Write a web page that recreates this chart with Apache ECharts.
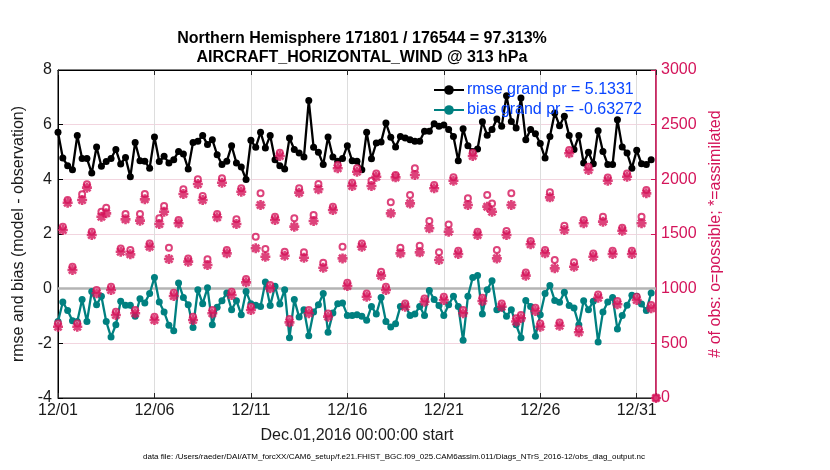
<!DOCTYPE html>
<html>
<head>
<meta charset="utf-8">
<script src="https://cdn.jsdelivr.net/npm/echarts@6/dist/echarts.min.js"></script>
<style>
html,body{margin:0;padding:0;background:#fff;}
#chart{width:830px;height:470px;}
</style>
</head>
<body>
<div id="chart"></div>
<script>
// x tick labels (every 5 days, 6-hourly points => 4 per day)
const tickLabels = ['12/01','12/06','12/11','12/16','12/21','12/26','12/31'];
const rmseName = 'rmse grand pr = 5.1331';
const biasName = 'bias grand pr = -0.63272';

const rmse = [5.72,4.78,4.50,4.35,5.60,4.76,4.76,4.23,5.18,4.48,
4.65,4.76,5.09,4.56,4.80,4.09,5.35,4.68,4.66,4.41,
5.55,4.65,4.84,4.60,4.72,5.02,4.93,4.38,5.35,5.39,
5.60,5.27,5.45,4.90,4.54,4.66,5.23,4.60,4.45,3.99,
5.43,5.17,5.72,5.15,5.60,4.72,4.50,4.38,5.51,5.09,
4.96,4.82,6.88,5.17,4.99,4.54,5.55,4.82,4.66,4.76,
5.23,4.68,4.66,4.35,5.72,4.75,5.33,5.37,6.06,5.54,
5.18,5.57,5.51,5.45,5.39,5.39,5.76,5.76,6.03,5.94,
5.99,5.82,5.57,4.68,5.85,5.23,5.02,5.11,6.11,5.61,
5.82,6.21,5.94,7.06,6.12,5.88,6.98,5.45,5.82,5.67,
5.31,4.78,5.57,6.43,5.96,6.31,5.60,5.09,5.60,4.60,
4.99,4.57,5.78,5.02,4.54,4.54,6.18,5.18,4.96,4.41,
5.06,4.57,4.54,4.72,null];

const bias = [-1.20,-0.49,-0.80,-1.17,-1.20,-0.40,-1.20,-0.10,-0.59,-0.28,
-1.20,-1.77,-1.32,-0.46,-0.61,-0.61,-1.01,-0.37,-0.52,-0.18,
0.41,-0.49,-0.85,-1.34,-1.54,0.21,-0.32,-0.59,-1.42,-0.04,
-0.55,0.03,-1.32,-0.68,-0.44,-0.16,-0.77,-0.44,-0.95,-0.10,
-0.55,-0.61,-0.65,0.24,-0.62,0.09,-0.56,-0.04,-1.80,-0.40,
-1.04,-0.77,-1.72,-0.85,-0.59,-0.18,-1.59,-0.89,-0.55,-0.52,
-0.98,-0.98,-0.95,-1.01,-1.16,-0.65,-0.93,-0.32,-1.20,-1.40,
-1.28,-0.65,-0.59,-0.98,-0.93,-0.65,-0.98,-0.07,-0.40,-0.62,
-0.98,-0.59,-0.28,-0.65,-1.89,-0.28,0.41,0.48,-0.93,-0.04,
0.29,-0.77,-0.71,-1.01,-0.77,-1.32,-1.80,-0.43,-0.65,-1.74,
-0.95,-0.18,0.12,-0.43,-0.50,-0.13,-0.62,-0.71,-1.32,-0.44,
-0.77,-0.46,-1.95,-0.85,-0.49,-0.32,-1.48,-0.98,-0.61,-0.24,
-0.28,-0.56,-0.80,-0.16,null];

const possible = [682,1567,1811,1201,682,1863,1954,1521,988,1704,
1740,1018,789,1368,1683,1354,805,1683,1866,1414,
743,1643,1756,1375,963,1628,1909,1277,743,2000,
1847,1268,805,1683,2009,1353,972,1634,1918,1088,
835,1475,1872,1363,1033,1658,2243,1338,722,1643,
1918,1332,805,1674,1957,1237,774,1749,2131,1384,
1054,1969,2101,1414,956,1987,2054,1155,1018,1790,
2040,1375,865,1857,2101,1393,911,1619,1948,1332,
926,1588,2018,1347,805,1826,2243,1521,917,1857,
1780,1354,865,1527,1872,730,760,1149,1436,826,
682,1353,1881,1262,691,1576,2268,1241,631,1628,
2115,1322,947,1658,2017,1347,887,1558,2054,1347,
926,1658,1902,850,0];

const assimilated = [652,1537,1786,1171,652,1811,1924,1491,958,1658,
1689,988,759,1338,1634,1314,775,1622,1817,1384,
713,1591,1704,1271,933,1598,1866,1247,713,1957,
1811,1216,775,1653,1969,1323,942,1591,1887,1058,
805,1369,1765,1292,1003,1628,2213,1301,692,1567,
1878,1283,775,1619,1909,1191,744,1719,2101,1277,
1024,1939,2070,1384,926,1939,2024,1119,988,1689,
2018,1323,835,1780,2040,1332,881,1552,1918,1262,
896,1521,1987,1317,775,1765,2213,1491,887,1750,
1704,1277,835,1491,1765,700,730,1119,1406,796,
652,1323,1835,1186,661,1537,2238,1201,601,1598,
2085,1292,917,1613,1987,1317,857,1530,2024,1317,
896,1598,1872,820,0];

const FONT = '"Liberation Sans", Arial, Helvetica, sans-serif';
const MAG = '#d4145a';
const TEAL = '#008080';
const STEP = 0.25; // days per point (6-hourly)

const pts = arr => arr.map((v, i) => [i * STEP, v]);
const star = 'path://M0,-5L0,5M-5,0L5,0M-3.6,-3.6L3.6,3.6M-3.6,3.6L3.6,-3.6';

const chart = echarts.init(document.getElementById('chart'), null, {renderer: 'canvas'});
chart.setOption({
  animation: false,
  backgroundColor: '#fff',
  textStyle: {fontFamily: FONT},
  title: {
    text: 'Northern Hemisphere 171801 / 176544 = 97.313%\nAIRCRAFT_HORIZONTAL_WIND @ 313 hPa',
    left: 357, top: 24, textAlign: 'center',
    textStyle: {fontFamily: FONT, fontSize: 16, fontWeight: 'bold', color: '#000', lineHeight: 19}
  },
  legend: {
    orient: 'vertical', left: 433, top: 82, padding: 0, itemWidth: 30, itemHeight: 12, itemGap: 4,
    data: [rmseName, biasName],
    textStyle: {fontFamily: FONT, fontSize: 16, color: '#0a46ff', padding: [0,0,0,-2]}
  },
  grid: {left: 58, right: 174, top: 70, bottom: 72, show: true, borderColor: '#000', borderWidth: 1, backgroundColor: 'transparent'},
  xAxis: [{
    type: 'value', min: 0, max: 31, interval: 5,
    name: 'Dec.01,2016 00:00:00 start', nameLocation: 'middle', nameGap: 30,
    nameTextStyle: {fontFamily: FONT, fontSize: 16, color: '#1a1a1a'},
    axisLine: {show: true, onZero: false, lineStyle: {color: '#262626', width: 1}},
    axisTick: {show: true, inside: true, length: 5, lineStyle: {color: '#262626'}},
    axisLabel: {fontFamily: FONT, fontSize: 16, color: '#1a1a1a', margin: 5,
      formatter: v => (v % 5 === 0 && tickLabels[v / 5]) ? tickLabels[v / 5] : ''},
    splitLine: {show: true, lineStyle: {color: '#dddddd', width: 1}}
  }, {
    type: 'value', position: 'top', min: 0, max: 31, interval: 5,
    axisLine: {show: true, onZero: false, lineStyle: {color: '#000'}},
    axisTick: {show: true, inside: true, length: 5, lineStyle: {color: '#262626'}},
    axisLabel: {show: false}, splitLine: {show: false}
  }],
  yAxis: [{
    type: 'value', min: -4, max: 8, interval: 2, position: 'left',
    name: 'rmse and bias (model - observation)', nameLocation: 'middle', nameGap: 31,
    nameTextStyle: {fontFamily: FONT, fontSize: 16, color: '#1a1a1a'},
    axisLine: {show: true, onZero: false, lineStyle: {color: '#000'}},
    axisTick: {show: true, inside: true, length: 5, lineStyle: {color: '#000'}},
    axisLabel: {fontFamily: FONT, fontSize: 16, color: '#1a1a1a', margin: 6},
    splitLine: {show: true, lineStyle: {color: '#f2d5df', width: 1}}
  }, {
    type: 'value', min: 0, max: 3000, interval: 500, position: 'right',
    name: '# of obs: o=possible; *=assimilated', nameLocation: 'middle', nameGap: 43,
    nameRotate: 90,
    nameTextStyle: {fontFamily: FONT, fontSize: 16, color: MAG},
    axisLine: {show: true, onZero: false, lineStyle: {color: MAG, width: 1.5}},
    axisTick: {show: true, inside: true, length: 5, lineStyle: {color: MAG}},
    axisLabel: {fontFamily: FONT, fontSize: 16, color: MAG, margin: 5, formatter: v => String(v)},
    splitLine: {show: false}
  }],
  series: [{
    name: rmseName, type: 'line', xAxisIndex: 0, yAxisIndex: 0, data: pts(rmse),
    symbol: 'circle', symbolSize: 7, showSymbol: true, connectNulls: false,
    lineStyle: {color: '#000', width: 2.3}, itemStyle: {color: '#000'}, z: 3
  }, {
    name: biasName, type: 'line', xAxisIndex: 0, yAxisIndex: 0, data: pts(bias),
    symbol: 'circle', symbolSize: 7, showSymbol: true,
    lineStyle: {color: TEAL, width: 2.3}, itemStyle: {color: TEAL}, z: 3,
    markLine: {silent: true, symbol: 'none', label: {show: false},
      lineStyle: {color: '#b4b4b4', width: 2.5, type: 'solid'}, data: [{yAxis: 0}], z: 1}
  }, {
    name: 'possible', type: 'scatter', xAxisIndex: 0, yAxisIndex: 1, data: pts(possible),
    symbol: 'circle', symbolSize: 6,
    itemStyle: {color: '#fff', borderColor: MAG, borderWidth: 2}, z: 4
  }, {
    name: 'assimilated', type: 'scatter', xAxisIndex: 0, yAxisIndex: 1, data: pts(assimilated),
    symbol: star, symbolSize: 10,
    itemStyle: {color: MAG, borderColor: MAG, borderWidth: 2.6}, z: 5
  }],
  graphic: [{
    type: 'text', left: 143, top: 453,
    style: {text: 'data file: /Users/raeder/DAI/ATM_forcXX/CAM6_setup/f.e21.FHIST_BGC.f09_025.CAM6assim.011/Diags_NTrS_2016-12/obs_diag_output.nc',
      font: '8px "Liberation Sans", Arial, sans-serif', fill: '#000'}
  }]
});
</script>
</body>
</html>
